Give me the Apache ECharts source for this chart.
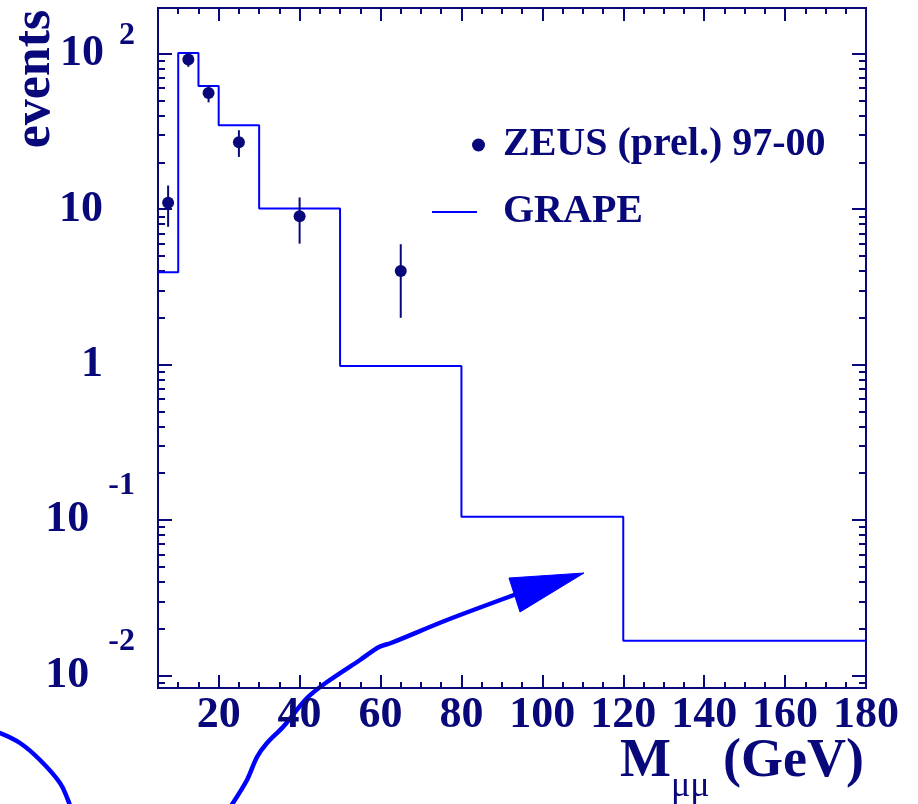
<!DOCTYPE html>
<html>
<head>
<meta charset="utf-8">
<script src="https://cdn.jsdelivr.net/npm/echarts@6/dist/echarts.min.js"></script>
<style>
  html, body { margin: 0; padding: 0; background: #ffffff; }
  #chart { width: 918px; height: 804px; }
</style>
</head>
<body>
<div id="chart"></div>
<script>
// GRAPE prediction: histogram bin edges (GeV) and expected events per bin
const grapeBinEdges = [5, 10, 15, 20, 30, 50, 80, 120, 180];
const grapeEvents = [3.93, 101, 62, 34.7, 10.1, 0.98, 0.105, 0.0167];

// ZEUS (prel.) 97-00 measurement: bin centres, events and error bars
const zeusMass = [7.5, 12.5, 17.5, 25, 40, 65];
const zeusEvents = [11, 92, 56, 27, 9, 4];
const zeusErrUp = [3.2, 9.6, 6.3, 5.2, 2.9, 1.95];
const zeusErrDown = [3.3, 9.6, 7.3, 5.3, 3.0, 2.0];

// Axis ranges and ticks
const xRange = [5, 180];
const yRange = [0.0083, 197];
const xMajorTicks = [20, 40, 60, 80, 100, 120, 140, 160, 180];
const xMinorStep = 5;
const yMajorTicks = [0.01, 0.1, 1, 10, 100];
const yTickBase = ['10', '10', '1', '10', '10'];
const yTickExp = ['-2', '-1', '', '', '2'];

const xMinorTicks = [];
for (let v = xRange[0] + xMinorStep; v < xRange[1]; v += xMinorStep) {
  if (xMajorTicks.indexOf(v) < 0) xMinorTicks.push(v);
}
const yMinorTicks = [];
[0.001, 0.01, 0.1, 1, 10].forEach(function (d) {
  for (let m = 2; m <= 9; m++) {
    const v = +(m * d).toPrecision(6);
    if (v > yRange[0] && v < yRange[1]) yMinorTicks.push(v);
  }
});

const NAVY = '#08087a';
const BLUE = '#0000ff';
const SERIF = '"Liberation Serif", "DejaVu Serif", serif';

const grapeLine = grapeEvents.map(function (v, i) { return [grapeBinEdges[i], v]; });
grapeLine.push([grapeBinEdges[grapeBinEdges.length - 1], grapeEvents[grapeEvents.length - 1]]);

const zeusPoints = zeusMass.map(function (m, i) { return [m, zeusEvents[i]]; });
const zeusBars = zeusMass.map(function (m, i) {
  return [m, zeusEvents[i] - zeusErrDown[i], zeusEvents[i] + zeusErrUp[i]];
});

function yLabel(value) {
  let best = 0, bestDiff = Infinity;
  yMajorTicks.forEach(function (t, i) {
    const d = Math.abs(Math.log10(t) - Math.log10(value));
    if (d < bestDiff) { bestDiff = d; best = i; }
  });
  const exp = yTickExp[best];
  if (!exp) return '{bp|' + yTickBase[best] + '}';
  return '{b|' + yTickBase[best] + '}{' + (exp.charAt(0) === '-' ? 'en' : 'ep') + '|' + exp + '}';
}

function xAxisDef(position, ticks, len, withLabels) {
  return {
    type: 'value', position: position, min: xRange[0], max: xRange[1],
    splitLine: { show: false },
    axisLine: { show: true, onZero: false, lineStyle: { color: NAVY, width: 2 } },
    axisTick: { show: true, inside: true, length: len, customValues: ticks,
      lineStyle: { color: NAVY, width: 2 } },
    axisLabel: withLabels ? {
      show: true, customValues: xMajorTicks, margin: 6,
      color: NAVY, fontFamily: SERIF, fontWeight: 'bold', fontSize: 44, lineHeight: 44
    } : { show: false }
  };
}

function yAxisDef(position, ticks, len, withLabels) {
  return {
    type: 'log', logBase: 10, position: position, min: yRange[0], max: yRange[1],
    splitLine: { show: false },
    axisLine: { show: true, onZero: false, lineStyle: { color: NAVY, width: 2 } },
    axisTick: { show: true, inside: true, length: len, customValues: ticks,
      lineStyle: { color: NAVY, width: 2 } },
    axisLabel: withLabels ? {
      show: true, customValues: yMajorTicks, margin: 23, formatter: yLabel,
      rich: {
        b: { color: NAVY, fontFamily: SERIF, fontWeight: 'bold', fontSize: 44, lineHeight: 44, verticalAlign: 'middle' },
        bp: { color: NAVY, fontFamily: SERIF, fontWeight: 'bold', fontSize: 44, lineHeight: 44, verticalAlign: 'middle', padding: [0, 32, 0, 0] },
        ep: { color: NAVY, fontFamily: SERIF, fontWeight: 'bold', fontSize: 32, lineHeight: 32, verticalAlign: 'middle', padding: [0, 0, 36, 15] },
        en: { color: NAVY, fontFamily: SERIF, fontWeight: 'bold', fontSize: 32, lineHeight: 32, verticalAlign: 'middle', padding: [0, 0, 68, 19] }
      }
    } : { show: false }
  };
}

const chart = echarts.init(document.getElementById('chart'), null, { renderer: 'canvas' });

chart.setOption({
  animation: false,
  backgroundColor: '#ffffff',
  grid: { left: 158, right: 52, top: 8, bottom: 116, containLabel: false, outerBoundsMode: 'none' },
  xAxis: [
    xAxisDef('bottom', xMajorTicks, 13, true),
    xAxisDef('bottom', xMinorTicks, 6, false),
    xAxisDef('top', xMajorTicks, 13, false),
    xAxisDef('top', xMinorTicks, 6, false)
  ],
  yAxis: [
    yAxisDef('left', yMajorTicks, 14, true),
    yAxisDef('left', yMinorTicks, 7, false),
    yAxisDef('right', yMajorTicks, 14, false),
    yAxisDef('right', yMinorTicks, 7, false)
  ],
  legend: [
    {
      data: ['ZEUS (prel.) 97-00'], left: 472, top: 125, padding: 0,
      icon: 'circle', itemWidth: 13, itemHeight: 13, selectedMode: false,
      itemStyle: { opacity: 1 },
      textStyle: { color: NAVY, fontFamily: SERIF, fontWeight: 'bold', fontSize: 40, lineHeight: 40, padding: [0, 0, 0, 13] }
    },
    {
      data: ['GRAPE'], left: 432, top: 192, padding: 0,
      icon: 'rect', itemWidth: 45, itemHeight: 2, selectedMode: false,
      textStyle: { color: NAVY, fontFamily: SERIF, fontWeight: 'bold', fontSize: 40, lineHeight: 40, padding: [0, 0, 0, 21] }
    }
  ],
  series: [
    {
      name: 'GRAPE', type: 'line', step: 'end', xAxisIndex: 0, yAxisIndex: 0,
      data: grapeLine, symbol: 'none', showSymbol: false,
      lineStyle: { color: BLUE, width: 2 }, itemStyle: { color: BLUE }, z: 2
    },
    {
      name: 'ZEUS errors', type: 'custom', xAxisIndex: 0, yAxisIndex: 0,
      data: zeusBars, z: 3,
      renderItem: function (params, api) {
        const lo = api.coord([api.value(0), api.value(1)]);
        const hi = api.coord([api.value(0), api.value(2)]);
        return {
          type: 'line',
          shape: { x1: lo[0], y1: lo[1], x2: hi[0], y2: hi[1] },
          style: { stroke: NAVY, lineWidth: 2 }
        };
      }
    },
    {
      name: 'ZEUS (prel.) 97-00', type: 'scatter', xAxisIndex: 0, yAxisIndex: 0,
      data: zeusPoints, symbol: 'circle', symbolSize: 12,
      itemStyle: { color: NAVY, opacity: 1 }, z: 4
    }
  ],
  graphic: [
    {
      type: 'text', x: 36, y: 79, rotation: Math.PI / 2,
      style: { text: 'events', fill: NAVY, font: 'bold 52px ' + SERIF, align: 'center', verticalAlign: 'middle' }
    },
    {
      type: 'text', x: 864, y: 762,
      style: {
        text: '{m|M}{s|μμ}{m| (GeV)}', align: 'right', verticalAlign: 'middle',
        rich: {
          m: { fill: NAVY, fontFamily: SERIF, fontWeight: 'bold', fontSize: 54, lineHeight: 54, verticalAlign: 'middle' },
          s: { fill: NAVY, fontFamily: SERIF, fontSize: 36, lineHeight: 36, verticalAlign: 'middle', padding: [50, 0, 0, 0] }
        }
      }
    },
    // hand-drawn annotation strokes
    {
      type: 'polyline', silent: true,
      shape: { points: [[0, 733], [20, 743], [40, 760], [60, 783], [68, 800], [70, 806]], smooth: 0.4 },
      style: { stroke: BLUE, lineWidth: 4.5, fill: null, lineCap: 'round' }
    },
    {
      type: 'polyline', silent: true,
      shape: {
        points: [[231, 806], [247, 780], [257, 757], [267, 743], [283, 727], [307, 698], [327, 682],
                 [360, 660], [379, 647], [391, 643], [447, 620], [514, 595]],
        smooth: 0.3
      },
      style: { stroke: BLUE, lineWidth: 4.5, fill: null, lineCap: 'round' }
    },
    {
      type: 'polygon', silent: true,
      shape: { points: [[509, 578], [584, 573], [520, 612]] },
      style: { fill: BLUE, stroke: BLUE, lineWidth: 1 }
    }
  ]
});
</script>
</body>
</html>
